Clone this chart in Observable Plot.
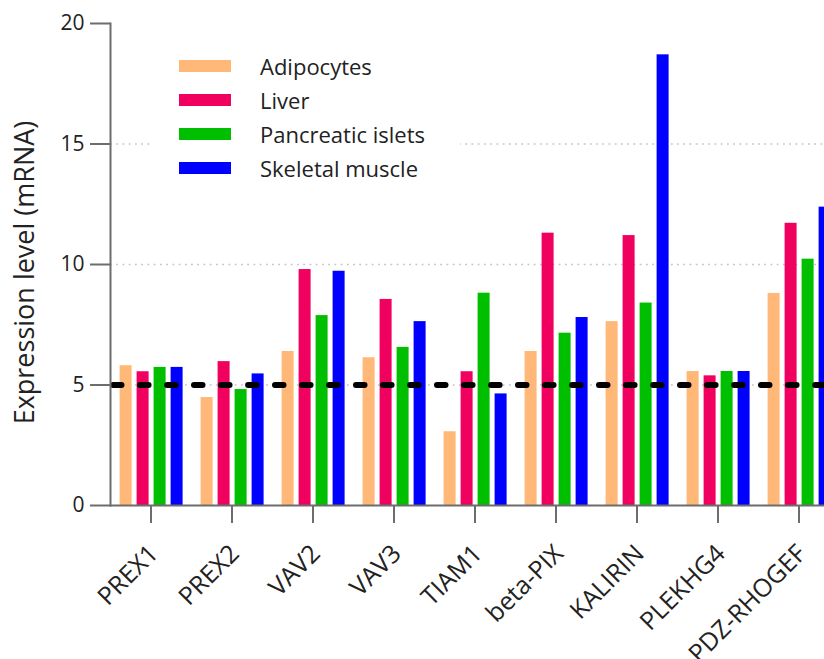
<!DOCTYPE html>
<html><head><meta charset="utf-8">
<script src="https://cdn.jsdelivr.net/npm/d3@7"></script>
<script src="https://cdn.jsdelivr.net/npm/@observablehq/plot@0.6"></script>
<style>
html,body{margin:0;padding:0;background:#fff;overflow:hidden}
#wrap{position:relative;width:824px;height:659px;overflow:hidden}
#wrap svg{max-width:none !important}
#legend{position:absolute;left:152px;top:47px;width:308px;height:138px;background:#fff;padding-top:2px;box-sizing:border-box;font-family:'Open Sans',sans-serif;font-size:22px;color:#222}
.row{display:flex;align-items:center;height:34px;white-space:nowrap}
.sw{width:52px;height:12px;margin-left:27px;margin-right:29px;flex:none}
</style></head><body><div id="wrap"><div id="legend"></div></div>
<script>
const categories = ["PREX1","PREX2","VAV2","VAV3","TIAM1","beta-PIX","KALIRIN","PLEKHG4","PDZ-RHOGEF"];
const series = ["Adipocytes","Liver","Pancreatic islets","Skeletal muscle"];
const adipocytes = [5.80, 4.48, 6.39, 6.13, 3.06, 6.39, 7.63, 5.56, 8.80];
const liver      = [5.55, 5.97, 9.79, 8.55, 5.55, 11.30, 11.20, 5.38, 11.71];
const islets     = [5.73, 4.81, 7.88, 6.56, 8.81, 7.15, 8.40, 5.56, 10.22];
const muscle     = [5.73, 5.46, 9.72, 7.63, 4.63, 7.80, 18.70, 5.56, 12.38];
const colors = ["#FFB878", "#F0005F", "#00BE00", "#0000FF"];
const yTicks = [0, 5, 10, 15, 20];
const gridValues = [5, 10, 15];
const threshold = 5;
const yLabel = "Expression level (mRNA)";

const values = [adipocytes, liver, islets, muscle];
const data = categories.flatMap((c, i) => series.map((s, j) => ({category: c, series: s, value: values[j][i]})));
const font = "'Open Sans', sans-serif";

const chart = Plot.plot({
  width: 840, height: 659,
  marginLeft: 109.4, marginRight: 0, marginTop: 23, marginBottom: 154,
  style: {fontFamily: font, background: "transparent", color: "#222", maxWidth: "none"},
  fx: {domain: categories, padding: 0, axis: null, label: null},
  x: {domain: series, paddingInner: 0.31, paddingOuter: 0.5, axis: null},
  y: {domain: [0, 20], axis: null},
  color: {domain: series, range: colors},
  marks: [
    Plot.ruleY(gridValues, {stroke: "#c4c4c4", strokeWidth: 1.5, strokeDasharray: "1.8,4.445"}),
    Plot.barY(data, {fx: "category", x: "series", y: "value", fill: "series"}),
    Plot.ruleY([threshold], {stroke: "#000", strokeWidth: 6, strokeDasharray: "8.5,18.56", strokeLinecap: "round", strokeDashoffset: -3}),
    Plot.ruleY([0], {stroke: "#6d6d6d", strokeWidth: 2}),
    Plot.frame({anchor: "left", facetAnchor: "left", stroke: "#6d6d6d", strokeWidth: 2}),
    Plot.axisY({ticks: yTicks, tickSize: 20, tickPadding: 6, fontSize: 21, label: null, stroke: "#6d6d6d", strokeWidth: 2, fill: "#222", fontFamily: font}),
    Plot.axisFx({anchor: "bottom", tickSize: 18, tickFormat: () => "", label: null, stroke: "#6d6d6d", strokeWidth: 2}),
    Plot.text(categories, {fx: d => d, text: d => d, frameAnchor: "bottom", dy: 44, dx: 3, rotate: -45, textAnchor: "end", lineAnchor: "middle", fontSize: 25, fill: "#222", fontFamily: font}),
    Plot.text([yLabel], {fx: () => categories[0], text: d => d, frameAnchor: "left", rotate: -90, dx: -96, dy: 8, textAnchor: "middle", lineAnchor: "top", fontSize: 27, fill: "#222", fontFamily: font})
  ]
});
const wrap = document.getElementById("wrap");
wrap.insertBefore(chart, wrap.firstChild);

const legend = document.getElementById("legend");
series.forEach((s, i) => {
  const row = document.createElement("div");
  row.className = "row";
  const sw = document.createElement("div");
  sw.className = "sw";
  sw.style.background = colors[i];
  const t = document.createElement("span");
  t.textContent = s;
  row.appendChild(sw);
  row.appendChild(t);
  legend.appendChild(row);
});
</script>
</body></html>
